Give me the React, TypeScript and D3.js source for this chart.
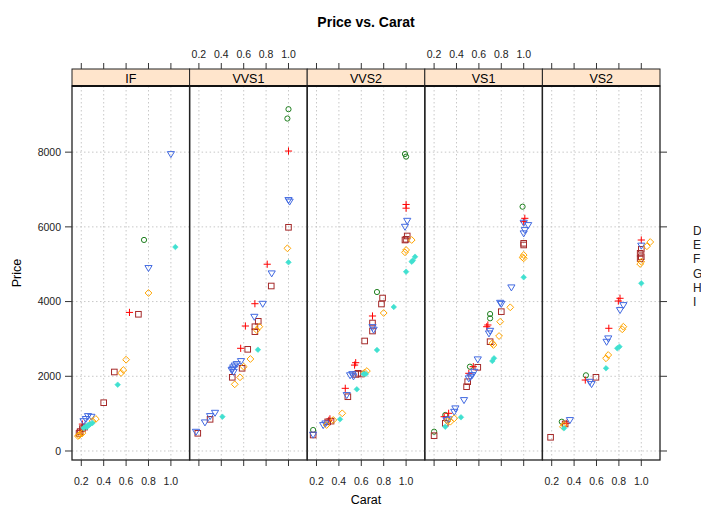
import React from "react";
import * as d3 from "d3";

const clarities = ["IF", "VVS1", "VVS2", "VS1", "VS2"];
const colorGroups = ["D", "E", "F", "G", "H", "I"];
const xTicks = [0.2, 0.4, 0.6, 0.8, 1.0];
const yTicks = [0, 2000, 4000, 6000, 8000];

type Pt = [string, number, number];

const dataIF: Pt[] = [
  ["D", 0.76, 5650],
  ["E", 0.63, 3710], ["E", 0.21, 720], ["E", 0.19, 560],
  ["F", 0.71, 3660], ["F", 0.495, 2115], ["F", 0.4, 1293], ["F", 0.19, 520], ["F", 0.21, 600], ["F", 0.23, 640], ["F", 0.18, 470],
  ["G", 1.0, 7950], ["G", 0.8, 4900], ["G", 0.26, 937], ["G", 0.29, 918], ["G", 0.24, 860], ["G", 0.22, 800],
  ["H", 0.8, 4230], ["H", 0.6, 2444], ["H", 0.575, 2168], ["H", 0.555, 2088], ["H", 0.33, 857], ["H", 0.3, 800], ["H", 0.17, 400], ["H", 0.19, 450], ["H", 0.21, 480], ["H", 0.18, 420],
  ["I", 1.04, 5460], ["I", 0.525, 1775], ["I", 0.22, 615], ["I", 0.24, 660], ["I", 0.26, 690], ["I", 0.28, 720], ["I", 0.3, 750], ["I", 0.27, 700], ["I", 0.25, 640],
];

const dataVVS1: Pt[] = [
  ["D", 1.0, 9150], ["D", 0.99, 8900],
  ["E", 1.0, 8030], ["E", 0.81, 5000], ["E", 0.7, 3943], ["E", 0.615, 3346], ["E", 0.573, 2749],
  ["F", 1.0, 5988], ["F", 0.846, 4417], ["F", 0.73, 3472], ["F", 0.7, 3327], ["F", 0.7, 3194], ["F", 0.636, 2722], ["F", 0.586, 2214], ["F", 0.498, 1973], ["F", 0.3, 848], ["F", 0.19, 474],
  ["G", 1.0, 6720], ["G", 1.01, 6680], ["G", 0.85, 4757], ["G", 0.77, 3943], ["G", 0.695, 3595], ["G", 0.576, 2409], ["G", 0.538, 2329], ["G", 0.52, 2290], ["G", 0.507, 2240], ["G", 0.5, 2190], ["G", 0.493, 2168], ["G", 0.51, 2120], ["G", 0.344, 1025], ["G", 0.3, 937], ["G", 0.254, 768], ["G", 0.174, 517],
  ["H", 0.99, 5426], ["H", 0.74, 3327], ["H", 0.716, 3239], ["H", 0.66, 2463], ["H", 0.6, 2257], ["H", 0.567, 1973], ["H", 0.52, 1785],
  ["I", 1.0, 5052], ["I", 0.727, 2712], ["I", 0.41, 918],
];

const dataVVS2: Pt[] = [
  ["D", 0.99, 7950], ["D", 1.0, 7880], ["D", 0.74, 4256], ["D", 0.17, 562],
  ["E", 1.0, 6600], ["E", 1.0, 6500], ["E", 0.7, 3614], ["E", 0.55, 2364], ["E", 0.54, 2300], ["E", 0.457, 1678], ["E", 0.32, 860], ["E", 0.31, 820],
  ["F", 1.01, 5756], ["F", 1.0, 5667], ["F", 0.99, 5648], ["F", 0.79, 4095], ["F", 0.78, 3935], ["F", 0.7, 3426], ["F", 0.7, 3212], ["F", 0.63, 2945], ["F", 0.55, 2050], ["F", 0.57, 2080], ["F", 0.6, 2060], ["F", 0.48, 1453], ["F", 0.33, 800], ["F", 0.3, 780], ["F", 0.17, 428],
  ["G", 1.01, 6165], ["G", 0.99, 6005], ["G", 0.7, 3319], ["G", 0.71, 3250], ["G", 0.52, 2060], ["G", 0.53, 2000], ["G", 0.5, 2030], ["G", 0.47, 1500], ["G", 0.26, 696], ["G", 0.28, 740], ["G", 0.17, 440],
  ["H", 1.05, 5648], ["H", 1.0, 5381], ["H", 0.99, 5319], ["H", 0.8, 3694], ["H", 0.63, 2100], ["H", 0.65, 2140], ["H", 0.43, 1009], ["H", 0.35, 830], ["H", 0.29, 696],
  ["I", 1.08, 5201], ["I", 1.06, 5100], ["I", 1.05, 5067], ["I", 1.0, 4800], ["I", 0.89, 3855], ["I", 0.74, 2704], ["I", 0.62, 2060], ["I", 0.64, 2060], ["I", 0.56, 1652], ["I", 0.41, 849],
];

const dataVS1: Pt[] = [
  ["D", 0.99, 6540], ["D", 0.7, 3667], ["D", 0.7, 3552], ["D", 0.52, 2257], ["D", 0.3, 964], ["D", 0.2, 517],
  ["E", 1.01, 6229], ["E", 1.0, 6139], ["E", 0.68, 3373], ["E", 0.67, 3327], ["E", 0.55, 2257], ["E", 0.51, 2080], ["E", 0.33, 1009], ["E", 0.29, 918],
  ["F", 1.0, 5560], ["F", 1.0, 5515], ["F", 0.8, 3730], ["F", 0.7, 2926], ["F", 0.59, 2240], ["F", 0.5, 1855], ["F", 0.49, 1721], ["F", 0.3, 741], ["F", 0.2, 410],
  ["G", 1.0, 6113], ["G", 1.04, 6050], ["G", 1.01, 5916], ["G", 1.0, 5828], ["G", 0.89, 4382], ["G", 0.79, 3970], ["G", 0.8, 3940], ["G", 0.7, 3220], ["G", 0.69, 3150], ["G", 0.59, 2455], ["G", 0.557, 2123], ["G", 0.54, 2035], ["G", 0.525, 1989], ["G", 0.51, 1946], ["G", 0.467, 1365], ["G", 0.39, 1143], ["G", 0.38, 1052], ["G", 0.33, 850], ["G", 0.31, 830],
  ["H", 1.0, 5247], ["H", 1.0, 5158], ["H", 0.99, 5185], ["H", 0.88, 3847], ["H", 0.79, 3461], ["H", 0.78, 3078], ["H", 0.72, 2883], ["H", 0.73, 2838], ["H", 0.38, 875], ["H", 0.345, 784], ["H", 0.32, 800],
  ["I", 1.0, 4650], ["I", 0.735, 2482], ["I", 0.72, 2409], ["I", 0.44, 902], ["I", 0.3, 650],
];

const dataVS2: Pt[] = [
  ["D", 0.506, 2026], ["D", 0.29, 784],
  ["E", 1.0, 5648], ["E", 0.81, 4088], ["E", 0.795, 4015], ["E", 0.71, 3285], ["E", 0.5, 1900], ["E", 0.33, 741],
  ["F", 1.0, 5400], ["F", 0.99, 5292], ["F", 1.0, 5200], ["F", 0.99, 5150], ["F", 0.595, 1973], ["F", 0.32, 723], ["F", 0.19, 367],
  ["G", 1.0, 5500], ["G", 0.84, 3908], ["G", 0.81, 3775], ["G", 0.705, 3017], ["G", 0.69, 2926], ["G", 0.54, 1855], ["G", 0.556, 1793], ["G", 0.363, 830],
  ["H", 1.08, 5595], ["H", 1.05, 5480], ["H", 1.0, 5067], ["H", 0.99, 5006], ["H", 0.84, 3327], ["H", 0.83, 3258], ["H", 0.705, 2570], ["H", 0.685, 2482], ["H", 0.3, 650], ["H", 0.31, 700],
  ["I", 1.0, 4489], ["I", 0.805, 2792], ["I", 0.785, 2749], ["I", 0.685, 2214], ["I", 0.31, 607],
];

const panelData: Pt[][] = [dataIF, dataVVS1, dataVVS2, dataVS1, dataVS2];

const symColors: Record<string, string> = {
  D: "#1f7f1f",
  E: "#ff0000",
  F: "#a52a2a",
  G: "#4169e1",
  H: "#ffa500",
  I: "#40e0d0",
};

const W = 701;
const H = 508;
const panelLeft = 72;
const panelRight = 660;
const panelTop = 86;
const panelBottom = 460;
const stripTop = 69;
const nP = clarities.length;
const pw = (panelRight - panelLeft) / nP;

const yScale = d3.scaleLinear().domain([-241, 9771]).range([panelBottom, panelTop]);

function Symbol({ g, x, y }: { g: string; x: number; y: number }) {
  const c = symColors[g];
  const sw = 1;
  if (g === "D") return <circle cx={x} cy={y} r={2.6} fill="none" stroke={c} strokeWidth={sw} />;
  if (g === "E")
    return (
      <path d={`M${x - 3.6},${y}H${x + 3.6}M${x},${y - 3.6}V${y + 3.6}`} stroke={c} strokeWidth={sw} fill="none" />
    );
  if (g === "F") return <rect x={x - 2.8} y={y - 2.8} width={5.6} height={5.6} fill="none" stroke={c} strokeWidth={sw} />;
  if (g === "G")
    return (
      <path d={`M${x - 3.6},${y - 2.4}L${x + 3.6},${y - 2.4}L${x},${y + 3.6}Z`} fill="none" stroke={c} strokeWidth={sw} />
    );
  if (g === "H")
    return (
      <path d={`M${x},${y - 3.4}L${x + 3.4},${y}L${x},${y + 3.4}L${x - 3.4},${y}Z`} fill="none" stroke={c} strokeWidth={sw} />
    );
  return <path d={`M${x},${y - 2.8}L${x + 2.8},${y}L${x},${y + 2.8}L${x - 2.8},${y}Z`} fill={c} stroke={c} strokeWidth={0.6} />;
}

export default function App() {
  const font = "Liberation Sans, Arial, sans-serif";
  return (
    <svg width={W} height={H} style={{ position: "absolute", left: 0, top: 0, background: "#fff" }} fontFamily={font}>
      <rect width={W} height={H} fill="#fff" />
      <text x={366} y={27} textAnchor="middle" fontSize={14} fontWeight="bold">
        Price vs. Carat
      </text>
      {clarities.map((cl, i) => {
        const left = panelLeft + i * pw;
        const xs = d3.scaleLinear().domain([0.117, 1.167]).range([left, left + pw]);
        const pts = panelData[i];
        const bottomLabels = i % 2 === 0;
        return (
          <g key={cl}>
            {xTicks.map((t) => (
              <line key={"vx" + t} x1={xs(t)} x2={xs(t)} y1={panelTop} y2={panelBottom} stroke="#c8c8c8" strokeDasharray="1.5,2.5" strokeWidth={1} />
            ))}
            {yTicks.map((t) => (
              <line key={"hy" + t} x1={left} x2={left + pw} y1={yScale(t)} y2={yScale(t)} stroke="#c8c8c8" strokeDasharray="1.5,2.5" strokeWidth={1} />
            ))}
            {pts.map((p, k) => (
              <Symbol key={k} g={p[0]} x={xs(p[1])} y={yScale(p[2])} />
            ))}
            <rect x={left} y={stripTop} width={pw} height={panelTop - stripTop} fill="#ffe5cc" stroke="#222" strokeWidth={1} />
            <text x={left + pw / 2} y={panelTop - 3.5} textAnchor="middle" fontSize={12.5}>
              {cl}
            </text>
            {xTicks.map((t) => (
              <g key={"t" + t}>
                <line x1={xs(t)} x2={xs(t)} y1={panelBottom} y2={panelBottom + 6} stroke="#333" strokeWidth={1} />
                <line x1={xs(t)} x2={xs(t)} y1={stripTop} y2={stripTop - 6} stroke="#333" strokeWidth={1} />
                {bottomLabels ? (
                  <text x={xs(t)} y={485} textAnchor="middle" fontSize={10.5} fill="#222">
                    {t.toFixed(1)}
                  </text>
                ) : (
                  <text x={xs(t)} y={58} textAnchor="middle" fontSize={10.5} fill="#222">
                    {t.toFixed(1)}
                  </text>
                )}
              </g>
            ))}
            <rect x={left} y={panelTop} width={pw} height={panelBottom - panelTop} fill="none" stroke="#222" strokeWidth={1.3} />
            <line x1={left} x2={left + pw} y1={panelTop} y2={panelTop} stroke="#111" strokeWidth={2} />
          </g>
        );
      })}
      {yTicks.map((t) => (
        <g key={"y" + t}>
          <line x1={panelLeft - 7} x2={panelLeft} y1={yScale(t)} y2={yScale(t)} stroke="#333" />
          <text x={panelLeft - 11} y={yScale(t) + 3.8} textAnchor="end" fontSize={10.5} fill="#222">
            {t}
          </text>
          <line x1={panelRight} x2={panelRight + 7} y1={yScale(t)} y2={yScale(t)} stroke="#333" />
        </g>
      ))}
      <text transform={`translate(21,${(panelTop + panelBottom) / 2}) rotate(-90)`} textAnchor="middle" fontSize={12.5}>
        Price
      </text>
      <text x={366} y={504} textAnchor="middle" fontSize={12.5}>
        Carat
      </text>
      {colorGroups.map((g, i) => (
        <text key={g} x={693} y={235 + i * 14.2} fontSize={12} fill="#222">
          {g}
        </text>
      ))}
    </svg>
  );
}
